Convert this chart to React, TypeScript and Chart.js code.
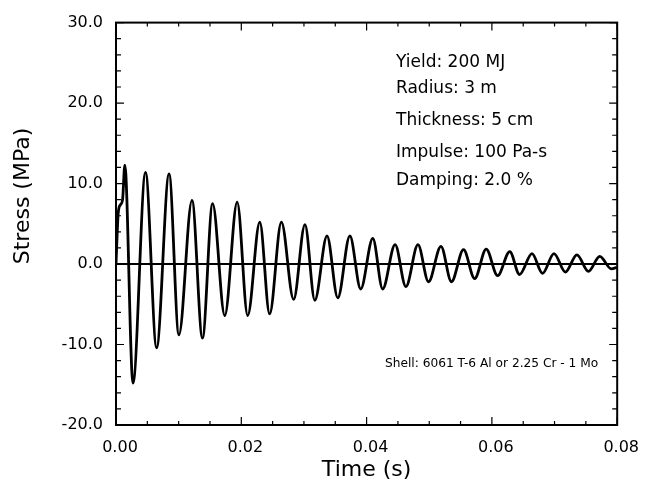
import { useEffect, useRef } from "react";
import { Chart, registerables } from "chart.js";

Chart.register(...registerables);

// Time (s) and stress (MPa) read at the start, peaks and troughs of the trace
const timeS = [
  0, 0.00036, 0.00074, 0.00105, 0.00141, 0.00271, 0.00471, 0.00648, 0.00847, 0.01004,
  0.01213, 0.0138, 0.01542, 0.01736, 0.01934, 0.02102, 0.02295, 0.02452, 0.0264, 0.02835,
  0.03016, 0.03173, 0.03368, 0.0354, 0.03733, 0.03906, 0.04099, 0.04256, 0.04455, 0.04627,
  0.0482, 0.04988, 0.05187, 0.05354, 0.05547, 0.05725, 0.05909, 0.06091, 0.06285, 0.06442,
  0.0664, 0.06808, 0.06991, 0.07173, 0.07357, 0.07541, 0.07722, 0.07906, 0.08,
];
const stressMPa = [
  0, 6.4, 7.4, 8.0, 12.3, -14.8, 11.4, -10.4, 11.2, -8.8,
  7.9, -9.2, 7.5, -6.4, 7.7, -6.4, 5.2, -6.2, 5.2, -4.4,
  4.9, -4.5, 3.5, -4.2, 3.5, -3.1, 3.2, -3.1, 2.4, -2.8,
  2.4, -2.2, 2.2, -2.2, 1.8, -1.8, 1.85, -1.45, 1.55, -1.3,
  1.3, -1.15, 1.3, -1.0, 1.15, -0.9, 0.95, -0.6, -0.4,
];
const zeroLineX = [0, 0.08];
const zeroLineY = [0, 0];

const xTicks = [0, 0.02, 0.04, 0.06, 0.08];
const yTicks = [-20, -10, 0, 10, 20, 30];
const xMinorStep = 0.005;
const yMinorStep = 2;

const xTitle = "Time (s)";
const yTitle = "Stress (MPa)";
const notes = ["Yield: 200 MJ", "Radius: 3 m", "Thickness: 5 cm", "Impulse: 100 Pa-s", "Damping: 2.0 %"];
const noteBaselines = [67, 93, 125, 157, 185];
const shellNote = "Shell: 6061 T-6 Al or 2.25 Cr - 1 Mo";

const FONT = "'DejaVu Sans', sans-serif";

const framePlugin = {
  id: "frameAndNotes",
  afterDraw(chart: any) {
    const { ctx, chartArea: a, scales } = chart;
    const xs = scales.x;
    const ys = scales.y;
    ctx.save();
    ctx.strokeStyle = "#000";
    ctx.fillStyle = "#000";
    // inward tick marks
    ctx.lineWidth = 1.2;
    ctx.beginPath();
    const nx = Math.round((xs.max - xs.min) / xMinorStep);
    for (let i = 0; i <= nx; i++) {
      const v = xs.min + i * xMinorStep;
      const px = xs.getPixelForValue(v);
      const major = xTicks.some((t) => Math.abs(t - v) < 1e-9);
      const len = major ? 8 : 4;
      ctx.moveTo(px, a.bottom);
      ctx.lineTo(px, a.bottom - len);
      ctx.moveTo(px, a.top);
      ctx.lineTo(px, a.top + len);
    }
    const ny = Math.round((ys.max - ys.min) / yMinorStep);
    for (let i = 0; i <= ny; i++) {
      const v = ys.min + i * yMinorStep;
      const py = ys.getPixelForValue(v);
      const major = yTicks.some((t) => Math.abs(t - v) < 1e-9);
      const len = major ? 8 : 5;
      ctx.moveTo(a.left, py);
      ctx.lineTo(a.left + len, py);
      ctx.moveTo(a.right, py);
      ctx.lineTo(a.right - len, py);
    }
    ctx.stroke();
    // frame
    ctx.lineWidth = 2;
    ctx.strokeRect(a.left, a.top, a.right - a.left, a.bottom - a.top);
    // y title
    ctx.save();
    ctx.translate(29, 196);
    ctx.rotate(-Math.PI / 2);
    ctx.font = `22px ${FONT}`;
    ctx.textAlign = "center";
    ctx.textBaseline = "alphabetic";
    ctx.fillText(yTitle, 0, 0);
    ctx.restore();
    // notes
    ctx.font = `17px ${FONT}`;
    ctx.textAlign = "left";
    ctx.textBaseline = "alphabetic";
    notes.forEach((t, i) => ctx.fillText(t, 396, noteBaselines[i]));
    ctx.font = `12.2px ${FONT}`;
    ctx.fillText(shellNote, 385, 367);
    ctx.restore();
  },
};

export default function App() {
  const ref = useRef<HTMLCanvasElement | null>(null);
  useEffect(() => {
    document.body.style.margin = "0";
    const canvas = ref.current;
    if (!canvas) return;
    const chart = new Chart(canvas, {
      type: "line",
      data: {
        datasets: [
          {
            label: "Stress",
            data: timeS.map((t, i) => ({ x: t, y: stressMPa[i] })),
            borderColor: "#000",
            borderWidth: 2.8,
            pointRadius: 0,
            fill: false,
            cubicInterpolationMode: "monotone",
          },
          {
            label: "Zero",
            data: zeroLineX.map((t, i) => ({ x: t, y: zeroLineY[i] })),
            borderColor: "#000",
            borderWidth: 2,
            pointRadius: 0,
            fill: false,
          },
        ],
      },
      options: {
        responsive: false,
        animation: false,
        devicePixelRatio: 1,
        layout: { padding: { top: 18, right: 22, left: 0, bottom: 0 } },
        plugins: { legend: { display: false }, tooltip: { enabled: false } },
        scales: {
          x: {
            type: "linear",
            min: 0,
            max: 0.08,
            afterBuildTicks: (s: any) => {
              s.ticks = xTicks.map((v) => ({ value: v }));
            },
            afterFit: (s: any) => {
              s.height = 59;
            },
            grid: { display: false, drawTicks: false },
            border: { display: false },
            ticks: {
              color: "#000",
              font: { family: FONT, size: 16 },
              padding: 13,
              labelOffset: 4,
              maxRotation: 0,
              autoSkip: false,
              callback: (v: any) => Number(v).toFixed(2),
            },
            title: {
              display: true,
              text: xTitle,
              color: "#000",
              font: { family: FONT, size: 22 },
              padding: { top: 0, bottom: 1 },
            },
          },
          y: {
            type: "linear",
            min: -20,
            max: 30,
            afterBuildTicks: (s: any) => {
              s.ticks = yTicks.map((v) => ({ value: v }));
            },
            afterFit: (s: any) => {
              s.width = 116;
            },
            grid: { display: false, drawTicks: false },
            border: { display: false },
            ticks: {
              color: "#000",
              font: { family: FONT, size: 16 },
              padding: 13,
              autoSkip: false,
              callback: (v: any) => Number(v).toFixed(1),
            },
          },
        },
      },
      plugins: [framePlugin],
    } as any);
    return () => chart.destroy();
  }, []);
  return (
    <div style={{ width: 648, height: 484, background: "#fff" }}>
      <canvas ref={ref} width={648} height={484} />
    </div>
  );
}
